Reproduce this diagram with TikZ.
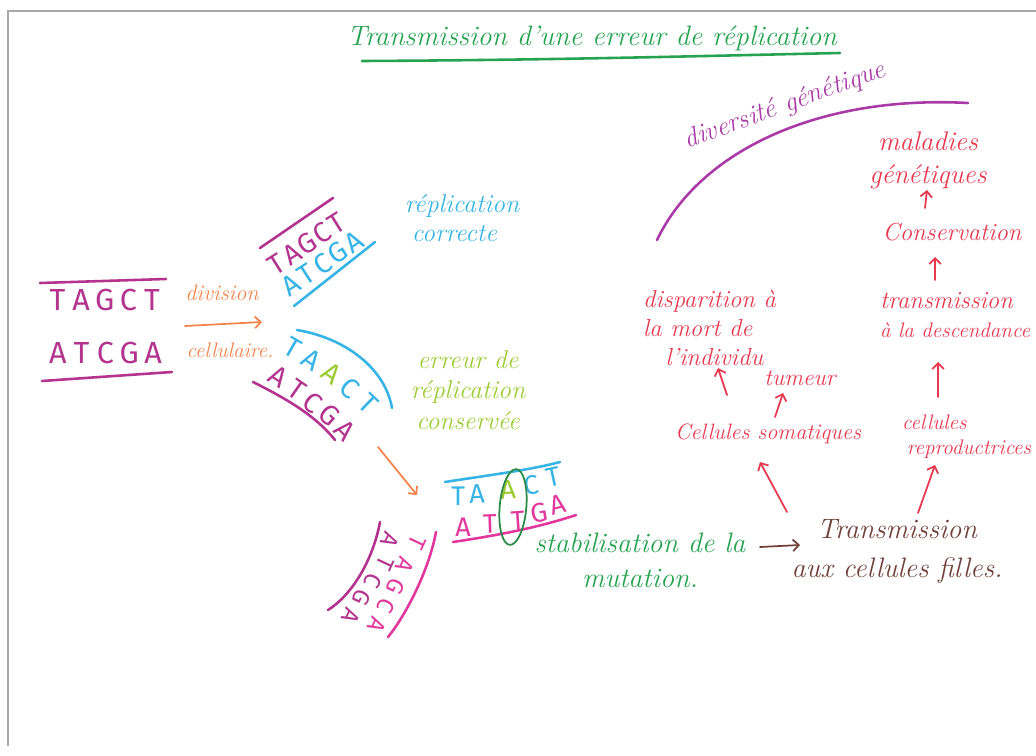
\documentclass[tikz,border=0pt]{standalone}
\usepackage{fontspec}
\newfontfamily\dnafont{Fira Sans}
\usetikzlibrary{arrows.meta,calc,shapes.geometric}

\definecolor{titlegreen}{HTML}{25A350}
\definecolor{markgreen}{HTML}{2B8A45}
\definecolor{dnapurple}{HTML}{B3338F}
\definecolor{dnapink}{HTML}{E2389E}
\definecolor{dnablue}{HTML}{35B4E5}
\definecolor{limeink}{HTML}{9CCB32}
\definecolor{orangeink}{HTML}{F4834A}
\definecolor{redink}{HTML}{E8384F}
\definecolor{brownink}{HTML}{70403A}
\definecolor{violetink}{HTML}{A93AA8}
\definecolor{pagegray}{HTML}{A8A8A8}

\newcommand\handsize[2]{\fontsize{#1}{#2}\selectfont\itshape}

\begin{document}
\begin{tikzpicture}[x=0.03cm,y=-0.03cm,
  ink/.style={line width=2.2pt, line cap=round},
  thinink/.style={line width=1.5pt, line cap=round},
  barb/.style={-{Straight Barb[length=5pt,width=10pt]}},
  hand/.style={inner sep=0pt, align=center},
  base/.style={inner sep=0pt, font=\dnafont\fontsize{#1}{#1}\selectfont}]

\useasboundingbox (0,0) rectangle (1036,755);

% edge of the scanned sheet
\draw[pagegray, line width=1.2pt] (8,746) -- (8,11) -- (1036,11);

% title
\node[hand, text=titlegreen, font=\handsize{24}{28}] (title) at (592,38)
  {Transmission d'une erreur de réplication};
\draw[ink, titlegreen] (362,61) .. controls (560,60) and (700,56) .. (840,53);

% parent double strand
\draw[ink, dnapurple] (40,283) -- (166,279);
\foreach \b [count=\i] in {T,A,G,C,T}
  \node[base=26, text=dnapurple] (pa\i) at ({34+23.6*\i},300) {\b};
\foreach \b [count=\i] in {A,T,C,G,A}
  \node[base=26, text=dnapurple] (pb\i) at ({34+23.8*\i},353) {\b};
\draw[ink, dnapurple] (42,381) -- (172,372);

% cell division
\node[hand, text=orangeink, font=\handsize{19}{22}] (div) at (222,293) {division};
\node[hand, text=orangeink, font=\handsize{18}{20}] (cell) at (230,350) {cellulaire.};
\coordinate (dv1) at (185,326);
\coordinate (dv2) at (262,322);
\draw[thinink, orangeink, barb] (dv1) -- (dv2);

% correct copy
\draw[ink, dnapurple] (260,248) -- (333,198);
\foreach \b [count=\i] in {T,A,G,C,T}
  \node[base=24, text=dnapurple, rotate=32] (ua\i) at ({277+15*(\i-1)},{264-10.2*(\i-1)}) {\b};
\foreach \b [count=\i] in {A,T,C,G,A}
  \node[base=24, text=dnablue, rotate=33] (ub\i) at ({291+15.7*(\i-1)},{285-10.7*(\i-1)}) {\b};
\draw[ink, dnablue] (294,306) -- (375,242);
\node[hand, text=dnablue, font=\handsize{22}{25}, align=left] (ok) at (462,218)
  {réplication\\\hspace{6pt}correcte};

% copy with a replication error
\draw[ink, dnablue] (297,330) .. controls (345,338) and (385,368) .. (392,408);
\foreach \b/\x/\y/\r/\c [count=\i] in {T/293/348/-30/dnablue, A/312/360/-33/dnablue,
    A/332/373/-36/limeink, C/350/388/-40/dnablue, T/368/404/-44/dnablue}
  \node[base=24, text=\c, rotate=\r] (la\i) at (\x,\y) {\b};
\foreach \b/\x/\y/\r [count=\i] in {A/278/377/-32, T/297/390/-35, C/313/403/-38,
    G/330/415/-41, A/345/430/-45}
  \node[base=24, text=dnapurple, rotate=\r] (lb\i) at (\x,\y) {\b};
\draw[ink, dnapurple] (253,382) .. controls (285,398) and (315,415) .. (335,440);
\node[hand, text=limeink, font=\handsize{22}{26}] (err) at (468,390)
  {erreur de\\réplication\\conservée};

% mutated double strand
\draw[ink, dnablue] (445,482) .. controls (490,475) and (530,470) .. (560,462);
\foreach \b/\x/\y/\r/\c [count=\i] in {T/458/496/0/dnablue, A/477/494/2/dnablue,
    A/508/490/4/limeink, C/531/485/8/dnablue, T/553/477/12/dnablue}
  \node[base=23, text=\c, rotate=\r] (ma\i) at (\x,\y) {\b};
\foreach \b/\x/\y/\r [count=\i] in {A/463/527/0, T/490/524/2, T/518/521/4,
    G/539/513/10, A/558/505/14}
  \node[base=23, text=dnapink, rotate=\r] (mb\i) at (\x,\y) {\b};
\draw[ink, dnapink] (453,542) .. controls (500,535) and (540,527) .. (576,515);
\node[draw=markgreen, ellipse, line width=1.5pt, minimum width=0.8cm,
  minimum height=2.28cm, rotate=-5] (ring) at (513,507) {};

% next replication
\draw[thinink, orangeink, barb] ($(lb5)+(33,17)$) -- ($(mb1)+(-46,-32)$);

% other daughter copy
\draw[ink, dnapurple] (380,522) .. controls (373,560) and (352,595) .. (328,610);
\foreach \b/\x/\y [count=\i] in {A/390/540, T/385/563, C/373/581, G/362/598, A/351/616}
  \node[base=20, text=dnapurple, rotate=-115] (ra\i) at (\x,\y) {\b};
\foreach \b/\x/\y [count=\i] in {T/417/542, A/405/565, G/396/587, C/386/606, A/377/625}
  \node[base=20, text=dnapink, rotate=-115] (rb\i) at (\x,\y) {\b};
\draw[ink, dnapink] (436,532) .. controls (429,570) and (406,615) .. (388,637);

% fixation and transmission
\node[hand, text=titlegreen, font=\handsize{24}{30}] (stab) at (640,560)
  {stabilisation de la\\mutation.};
\node[hand, text=brownink, font=\handsize{24}{33}] (trans) at (897,551)
  {Transmission\\aux cellules filles.};
\draw[thinink, brownink, barb] ($(stab.center)+(120,-13)$) -- ($(trans.center)+(-97,-6)$);

% consequences
\node[hand, text=redink, font=\handsize{19}{22}] (soma) at (768,434) {Cellules somatiques};
\node[hand, text=redink, font=\handsize{18}{21}, align=left, anchor=west] (repro) at (902,437)
  {cellules\\\hspace{4pt}reproductrices};
\node[hand, text=redink, font=\handsize{21}{25}, align=left, anchor=west] (death) at (643,328)
  {disparition à\\la mort de\\\hspace{19pt}l'individu};
\node[hand, text=redink, font=\handsize{20}{24}] (tum) at (800,378) {tumeur};
\node[hand, text=redink, font=\handsize{18}{25}, align=left, anchor=west] (desc) at (880,315)
  {{\fontsize{21}{25}\selectfont transmission}\\à la descendance};
\node[hand, text=redink, font=\handsize{21}{25}] (cons) at (952,232) {Conservation};
\node[hand, text=redink, font=\handsize{23}{28}] (mal) at (928,160) {maladies\\génétiques};

\draw[thinink, redink, barb] ($(trans.center)+(-110,-39)$) -- ($(soma.center)+(-8,28)$);
\draw[thinink, redink, barb] ($(trans.center)+(21,-38)$) -- ($(repro.west)+(33,28)$);
\draw[thinink, redink, barb] ($(soma.center)+(-41,-39)$) -- ($(death.west)+(75,40)$);
\draw[thinink, redink, barb] ($(soma.center)+(7,-17)$) -- ($(tum.center)+(-17,15)$);
\draw[thinink, redink, barb] ($(repro.west)+(36,-40)$) -- ($(desc.west)+(58,47)$);
\draw[thinink, redink, barb] ($(desc.west)+(55,-35)$) -- ($(cons.center)+(-17,25)$);
\draw[thinink, redink, barb] ($(cons.center)+(-27,-24)$) -- ($(mal.center)+(-1,30)$);

% genetic diversity
\node[hand, text=violetink, font=\handsize{23}{28}, rotate=20] (diverse) at (785,106)
  {diversité génétique};
\draw[ink, violetink] (657,240) .. controls (700,150) and (820,95) .. (968,103);

\end{tikzpicture}
\end{document}
